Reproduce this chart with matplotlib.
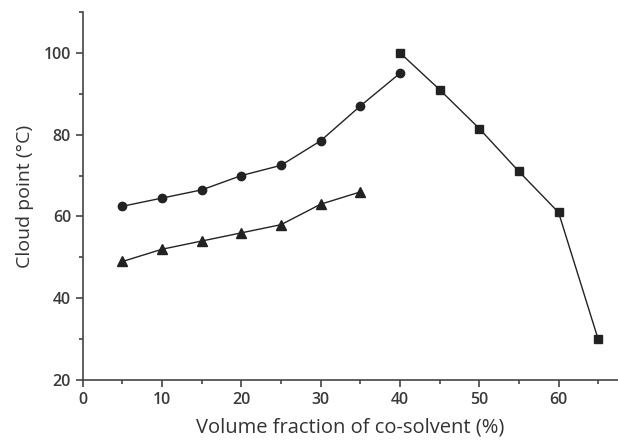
import numpy as np
import matplotlib.pyplot as plt
from matplotlib.ticker import MultipleLocator

plt.rcParams['font.family'] = ['Open Sans', 'DejaVu Sans']

# cloud point vs volume fraction of co-solvent
x_circle = [5, 10, 15, 20, 25, 30, 35, 40]
y_circle = [62.5, 64.5, 66.5, 70, 72.5, 78.5, 87, 95]

x_triangle = [5, 10, 15, 20, 25, 30, 35]
y_triangle = [49, 52, 54, 56, 58, 63, 66]

x_square = [40, 45, 50, 55, 60, 65]
y_square = [100, 91, 81.5, 71, 61, 30]

fig = plt.figure(figsize=(6.18, 4.4), dpi=100)
ax = fig.add_axes([0.134, 0.136, 0.866, 0.837])

lc = '#222222'
ax.plot(x_circle, y_circle, '-o', color=lc, lw=1.0, ms=6, clip_on=False)
ax.plot(x_triangle, y_triangle, '-^', color=lc, lw=1.0, ms=6.5, clip_on=False)
ax.plot(x_square, y_square, '-s', color=lc, lw=1.0, ms=5.5, clip_on=False)

ax.set_xlim(0, 67.5)
ax.set_ylim(20, 110)
ax.xaxis.set_major_locator(MultipleLocator(10))
ax.xaxis.set_minor_locator(MultipleLocator(5))
ax.yaxis.set_major_locator(MultipleLocator(20))
ax.yaxis.set_minor_locator(MultipleLocator(10))

for side in ['top', 'right']:
    ax.spines[side].set_visible(False)
for side in ['left', 'bottom']:
    ax.spines[side].set_color('#444444')
    ax.spines[side].set_linewidth(1.2)

tc = '#444444'
ax.tick_params(which='major', direction='out', length=5, width=1.2, color=tc,
               labelcolor='#3a3a3a', labelsize=11.5)
ax.tick_params(which='minor', direction='out', length=3, width=1.2, color=tc)
for lab in ax.get_xticklabels() + ax.get_yticklabels():
    lab.set_fontweight('semibold')

ax.set_xlabel('Volume fraction of co-solvent (%)', fontsize=14.5, color='#333333', labelpad=7)
ax.set_ylabel('Cloud point (\u00b0C)', fontsize=14, color='#333333', labelpad=7)

fig.savefig('out.png', dpi=100)
